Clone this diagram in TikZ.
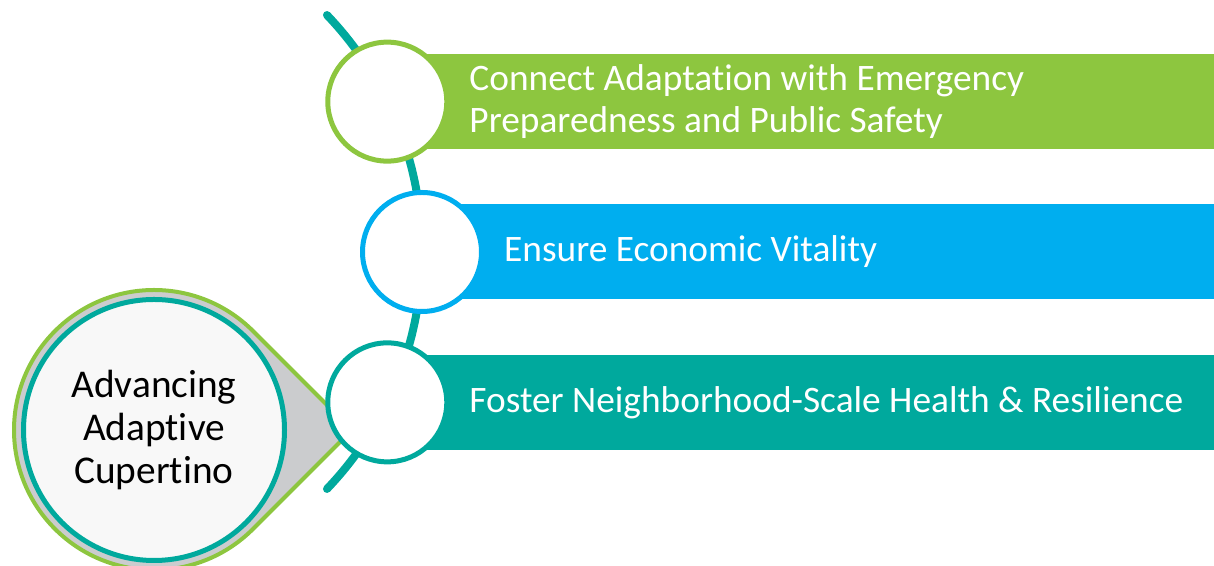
\documentclass[tikz,border=0pt]{standalone}
\usepackage{fontspec}
\setmainfont{Carlito}[Ligatures=NoCommon]
\usetikzlibrary{calc, positioning}

\definecolor{leaf}{HTML}{8DC63F}
\definecolor{sky}{HTML}{00AEEF}
\definecolor{sea}{HTML}{00A99D}
\definecolor{mist}{HTML}{CBCCCE}
\definecolor{paper}{HTML}{F8F8F8}

\tikzset{
	dot/.style={circle, draw=#1, line width=5bp, fill=white, minimum size=119bp, inner sep=0pt},
	bar/.style={fill=#1, minimum height=95bp, minimum width=830bp, anchor=west, inner sep=0pt},
	goal/.style={anchor=west, text=white, align=left, inner sep=0pt, font=\fontsize{37.5}{42}\selectfont},
}

\begin{document}
\begin{tikzpicture}[x=1bp, y=1bp]
	\useasboundingbox (0,0) rectangle (1214,566);
	\coordinate (o) at (79,314);
	\coordinate (hub) at (154,136);
	\coordinate (tip) at (352,136);

	% pointer and hub circle
	\filldraw[draw=leaf, fill=mist, line width=4bp] (tip) -- ($(hub)+(45:140)$) arc[start angle=45, end angle=315, radius=140] -- cycle;
	\node[circle, draw=sea, fill=paper, line width=5bp, minimum size=261bp, align=center,
		font=\fontsize{39.5}{43.5}\selectfont] (core) at (hub) {Advancing\\Adaptive\\Cupertino};

	% spine
	\draw[sea, line width=8bp, line cap=round] ($(o)+(43.7:343)$) coordinate (top)
		arc[start angle=43.7, end angle=-43.7, radius=343] coordinate (bot);

	\foreach \a/\c/\n in {26/leaf/1, 0/sky/2, -26/sea/3}{
			\coordinate (c\n) at ($(o)+(\a:343)$);
			\node[bar=\c] (b\n) at (c\n) {};
			\node[dot=\c] (d\n) at (c\n) {};
		}

	\node[goal] (g1) at ($(c1)+(82,0)$) {Connect Adaptation with Emergency\\Preparedness and Public Safety};
	\node[goal] (g2) at ($(c2)+(82,0)$) {Ensure Economic Vitality};
	\node[goal] (g3) at ($(c3)+(82,0)$) {Foster Neighborhood-Scale Health \& Resilience};

\end{tikzpicture}
\end{document}
